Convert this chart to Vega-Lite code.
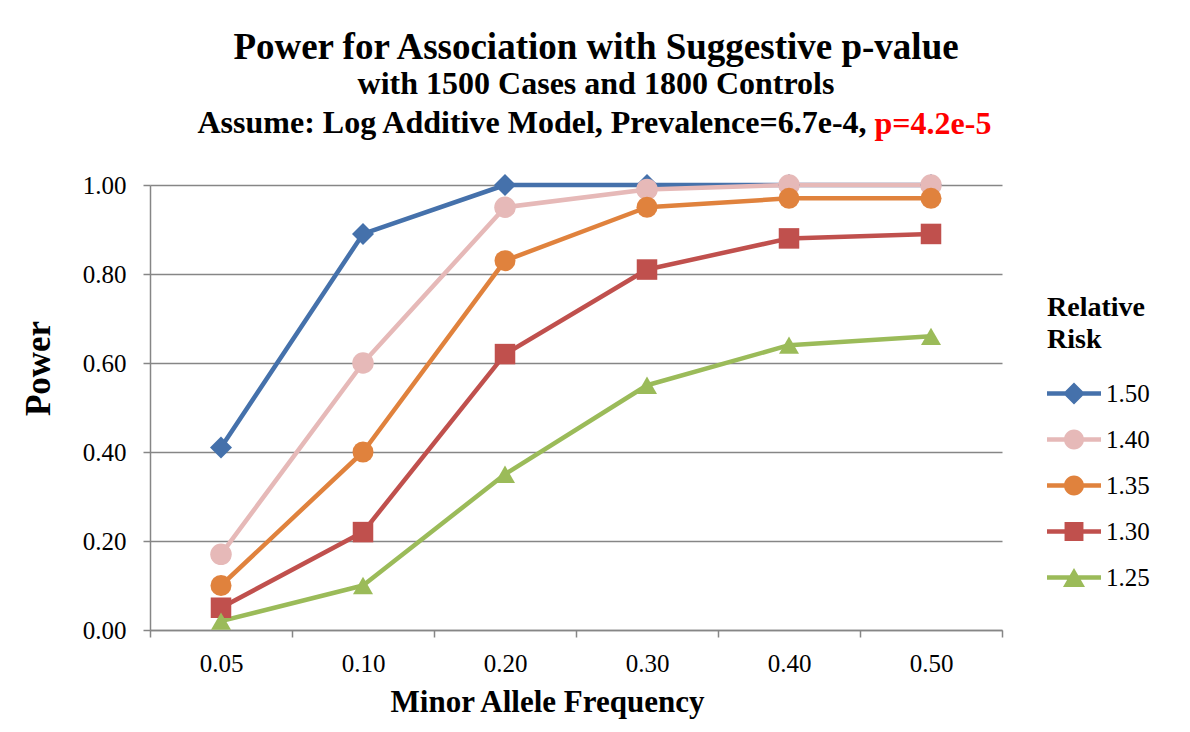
{
  "$schema": "https://vega.github.io/schema/vega-lite/v6.json",
  "width": 852,
  "height": 445,
  "autosize": {"type": "none"},
  "padding": {"left": 150, "top": 185, "right": 188, "bottom": 102},
  "background": "white",
  "config": {"view": {"stroke": null}, "font": "Liberation Serif"},
  "title": {
    "text": "Power for Association with Suggestive p-value",
    "subtitle": ["with 1500 Cases and 1800 Controls", "Assume: Log Additive Model, Prevalence=6.7e-4,\u00a0\u00a0\u00a0\u00a0\u00a0\u00a0\u00a0\u00a0\u00a0\u00a0\u00a0\u00a0\u00a0\u00a0\u00a0\u00a0\u200B"],
    "font": "Liberation Serif",
    "fontSize": 37,
    "fontWeight": "bold",
    "color": "black",
    "subtitleFont": "Liberation Serif",
    "subtitleFontSize": 32,
    "subtitleFontWeight": "bold",
    "subtitleColor": "black",
    "subtitleLineHeight": 39,
    "subtitlePadding": 2,
    "anchor": "middle",
    "frame": "group",
    "dx": 20,
    "offset": -33
  },
  "data": {
    "values": [
      {"maf": "0.05", "rr": "1.50", "power": 0.41},
      {"maf": "0.10", "rr": "1.50", "power": 0.89},
      {"maf": "0.20", "rr": "1.50", "power": 1.0},
      {"maf": "0.30", "rr": "1.50", "power": 1.0},
      {"maf": "0.40", "rr": "1.50", "power": 1.0},
      {"maf": "0.50", "rr": "1.50", "power": 1.0},
      {"maf": "0.05", "rr": "1.40", "power": 0.17},
      {"maf": "0.10", "rr": "1.40", "power": 0.6},
      {"maf": "0.20", "rr": "1.40", "power": 0.95},
      {"maf": "0.30", "rr": "1.40", "power": 0.99},
      {"maf": "0.40", "rr": "1.40", "power": 1.0},
      {"maf": "0.50", "rr": "1.40", "power": 1.0},
      {"maf": "0.05", "rr": "1.35", "power": 0.1},
      {"maf": "0.10", "rr": "1.35", "power": 0.4},
      {"maf": "0.20", "rr": "1.35", "power": 0.83},
      {"maf": "0.30", "rr": "1.35", "power": 0.95},
      {"maf": "0.40", "rr": "1.35", "power": 0.97},
      {"maf": "0.50", "rr": "1.35", "power": 0.97},
      {"maf": "0.05", "rr": "1.30", "power": 0.05},
      {"maf": "0.10", "rr": "1.30", "power": 0.22},
      {"maf": "0.20", "rr": "1.30", "power": 0.62},
      {"maf": "0.30", "rr": "1.30", "power": 0.81},
      {"maf": "0.40", "rr": "1.30", "power": 0.88},
      {"maf": "0.50", "rr": "1.30", "power": 0.89},
      {"maf": "0.05", "rr": "1.25", "power": 0.02},
      {"maf": "0.10", "rr": "1.25", "power": 0.1},
      {"maf": "0.20", "rr": "1.25", "power": 0.35},
      {"maf": "0.30", "rr": "1.25", "power": 0.55},
      {"maf": "0.40", "rr": "1.25", "power": 0.64},
      {"maf": "0.50", "rr": "1.25", "power": 0.66}
    ]
  },
  "resolve": {
    "scale": {"color": "independent", "shape": "independent"},
    "axis": {"x": "independent"}
  },
  "layer": [
    {
      "mark": {"type": "line", "strokeWidth": 4.5, "strokeCap": "round", "strokeJoin": "round"},
      "encoding": {
        "x": {
          "field": "maf", "type": "ordinal",
          "scale": {"type": "band", "domain": ["0.05", "0.10", "0.20", "0.30", "0.40", "0.50"], "paddingInner": 0, "paddingOuter": 0},
          "axis": {
            "title": "Minor Allele Frequency",
            "titleFont": "Liberation Serif", "titleFontSize": 31, "titleFontWeight": "bold", "titleColor": "black",
            "titlePadding": 11, "titleX": 397,
            "labelFont": "Liberation Serif", "labelFontSize": 25, "labelColor": "black", "labelAngle": 0, "labelPadding": 14,
            "tickBand": "extent", "ticks": true, "tickSize": 7, "tickColor": "#868686", "tickWidth": 1.5,
            "domainColor": "#868686", "domainWidth": 1.5, "grid": false
          }
        },
        "y": {
          "field": "power", "type": "quantitative",
          "scale": {"domain": [0, 1], "nice": false, "zero": true},
          "axis": {
            "title": "Power",
            "titleFont": "Liberation Serif", "titleFontSize": 35, "titleFontWeight": "bold", "titleColor": "black",
            "titleX": -112, "titleY": 183, "titleAngle": -90, "titleAlign": "center", "titleBaseline": "middle",
            "values": [0, 0.2, 0.4, 0.6, 0.8, 1.0], "format": ".2f",
            "labelFont": "Liberation Serif", "labelFontSize": 25, "labelColor": "black", "labelPadding": 17,
            "tickSize": 7, "tickColor": "#868686", "tickWidth": 1.5,
            "domainColor": "#868686", "domainWidth": 1.5,
            "grid": true, "gridColor": "#868686", "gridWidth": 1.5
          }
        },
        "color": {
          "field": "rr", "type": "nominal",
          "scale": {"domain": ["1.50", "1.40", "1.35", "1.30", "1.25"], "range": ["#4571AB", "#E6B9B8", "#E0823D", "#C0504D", "#9BBB59"]},
          "legend": null
        },
        "detail": {"field": "rr"}
      }
    },
    {
      "mark": {"type": "point", "filled": true, "opacity": 1},
      "encoding": {
        "x": {
          "field": "maf", "type": "ordinal",
          "scale": {"type": "band", "domain": ["0.05", "0.10", "0.20", "0.30", "0.40", "0.50"], "paddingInner": 0, "paddingOuter": 0},
          "axis": null
        },
        "y": {
          "field": "power", "type": "quantitative",
          "scale": {"domain": [0, 1], "nice": false, "zero": true},
          "axis": {
            "title": "Power",
            "titleFont": "Liberation Serif", "titleFontSize": 35, "titleFontWeight": "bold", "titleColor": "black",
            "titleX": -112, "titleY": 183, "titleAngle": -90, "titleAlign": "center", "titleBaseline": "middle",
            "values": [0, 0.2, 0.4, 0.6, 0.8, 1.0], "format": ".2f",
            "labelFont": "Liberation Serif", "labelFontSize": 25, "labelColor": "black", "labelPadding": 17,
            "tickSize": 7, "tickColor": "#868686", "tickWidth": 1.5,
            "domainColor": "#868686", "domainWidth": 1.5,
            "grid": true, "gridColor": "#868686", "gridWidth": 1.5
          }
        },
        "color": {
          "field": "rr", "type": "nominal",
          "scale": {"domain": ["1.50", "1.40", "1.35", "1.30", "1.25"], "range": ["#4571AB", "#E6B9B8", "#E0823D", "#C0504D", "#9BBB59"]},
          "legend": null
        },
        "shape": {
          "field": "rr", "type": "nominal",
          "scale": {"domain": ["1.50", "1.40", "1.35", "1.30", "1.25"], "range": ["diamond", "circle", "circle", "square", "triangle-up"]},
          "legend": null
        },
        "size": {
          "field": "rr", "type": "nominal",
          "scale": {"domain": ["1.50", "1.40", "1.35", "1.30", "1.25"], "range": [484, 400, 400, 361, 484]},
          "legend": null
        }
      }
    },
    {
      "transform": [{"filter": "false"}],
      "mark": {"type": "point", "filled": true, "opacity": 1, "size": 729},
      "encoding": {
        "x": {
          "field": "maf", "type": "ordinal",
          "scale": {"type": "band", "domain": ["0.05", "0.10", "0.20", "0.30", "0.40", "0.50"], "paddingInner": 0, "paddingOuter": 0},
          "axis": {
            "orient": "top", "labels": false, "ticks": false, "domain": false, "grid": false,
            "title": "p=4.2e-5",
            "titleFont": "Liberation Serif", "titleFontSize": 32, "titleFontWeight": "bold", "titleColor": "#FF0000",
            "titleX": 724, "titleY": -52, "titleAlign": "left", "titleBaseline": "alphabetic", "titleAngle": 0
          }
        },
        "color": {
          "field": "rr", "type": "nominal",
          "scale": {"domain": ["1.50", "1.40", "1.35", "1.30", "1.25"], "range": ["#4571AB", "#E6B9B8", "#E0823D", "#C0504D", "#9BBB59"]},
          "legend": {
            "orient": "none", "legendX": 897, "legendY": 109,
            "title": ["Relative", "Risk"],
            "titleFont": "Liberation Serif", "titleFontSize": 28, "titleFontWeight": "bold", "titleColor": "black",
            "titleLineHeight": 32, "titlePadding": 26,
            "labelFont": "Liberation Serif", "labelFontSize": 25, "labelColor": "black", "labelOffset": 32,
            "symbolSize": 729, "symbolStrokeWidth": 0, "rowPadding": 19
          }
        },
        "shape": {
          "field": "rr", "type": "nominal",
          "scale": {"domain": ["1.50", "1.40", "1.35", "1.30", "1.25"], "range": [
            "M-1,-0.17L3,-0.17L3,0.17L-1,0.17Z M1,-0.815L1.815,0L1,0.815L0.185,0Z",
            "M-1,-0.17L3,-0.17L3,0.17L-1,0.17Z M1.74,0A0.74,0.74 0 1,1 0.26,0A0.74,0.74 0 1,1 1.74,0Z",
            "M-1,-0.17L3,-0.17L3,0.17L-1,0.17Z M1.74,0A0.74,0.74 0 1,1 0.26,0A0.74,0.74 0 1,1 1.74,0Z",
            "M-1,-0.17L3,-0.17L3,0.17L-1,0.17Z M0.3,-0.7L1.7,-0.7L1.7,0.7L0.3,0.7Z",
            "M-1,-0.17L3,-0.17L3,0.17L-1,0.17Z M1,-0.706L1.815,0.706L0.185,0.706Z"
          ]},
          "legend": {
            "orient": "none", "legendX": 897, "legendY": 109,
            "title": ["Relative", "Risk"],
            "titleFont": "Liberation Serif", "titleFontSize": 28, "titleFontWeight": "bold", "titleColor": "black",
            "titleLineHeight": 32, "titlePadding": 26,
            "labelFont": "Liberation Serif", "labelFontSize": 25, "labelColor": "black", "labelOffset": 32,
            "symbolSize": 729, "symbolStrokeWidth": 0, "rowPadding": 19
          }
        }
      }
    }
  ]
}
